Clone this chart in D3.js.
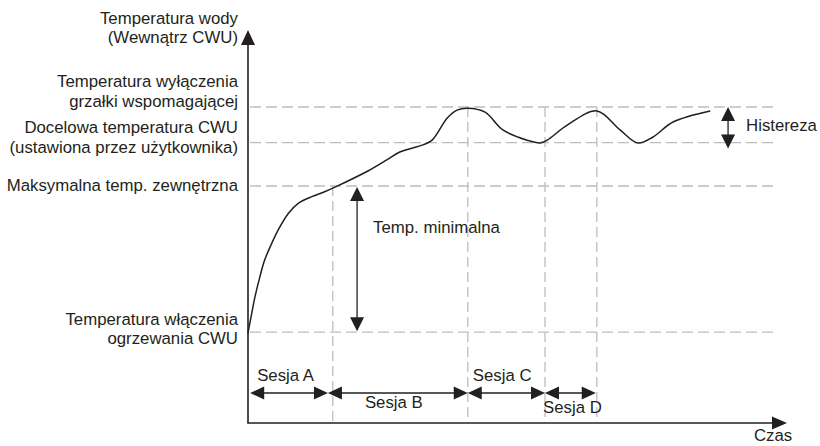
<!DOCTYPE html>
<html>
<head>
<meta charset="utf-8">
<script src="https://cdn.jsdelivr.net/npm/d3@7"></script>
<style>
  html, body { margin: 0; padding: 0; background: #fff; }
  svg { display: block; }
  text { font-family: "Liberation Sans", Arial, Helvetica, sans-serif; font-size: 16.8px; fill: #231f20; }
</style>
</head>
<body>
<svg id="chart" width="820" height="446"></svg>
<script>
// Temperature levels (arbitrary units) with their labels
const levelNames = [
  ["Temperatura włączenia", "ogrzewania CWU"],
  ["Maksymalna temp. zewnętrzna"],
  ["Docelowa temperatura CWU", "(ustawiona przez użytkownika)"],
  ["Temperatura wyłączenia", "grzałki wspomagającej"]
];
const levelValues = [23, 60, 71, 80];

// Water temperature over time
const timeValues = [0, 0.7, 1.3, 2.2, 3.1, 4.4, 5.6, 7.5, 9.3, 11.8, 14.3, 16.1, 22.2, 25.7, 28.1,
                    32.4, 34.1, 36.9, 38.7, 40.7, 43.9, 47.2, 51.7, 54.1, 55.4, 59.1, 64.6, 68.9, 72.2,
                    75, 78.7, 85.6];
const tempValues = [22.8, 27.8, 32, 37, 41.3, 45.5, 48.9, 53.1, 55.6, 57.3, 58.6, 59.7, 63.8, 66.6, 68.6,
                    70.4, 71.6, 77.2, 79.2, 79.7, 78.7, 74.2, 71.6, 70.9, 71.6, 75.4, 79, 74.2, 70.9,
                    72.4, 76.2, 79];

// Vertical guide lines (time) and the level where each starts
const guideTimes = [15.7, 40.7, 55, 64.6];
const guideTops = [60, 80, 80, 80];

// Sessions
const sessionNames = ["Sesja A", "Sesja B", "Sesja C", "Sesja D"];
const sessionBounds = [0.4, 14.8, 40.7, 55, 64.4];

// Annotations
const axisTitleY = ["Temperatura wody", "(Wewnątrz CWU)"];
const axisTitleX = "Czas";
const minTempLabel = "Temp. minimalna";
const minTempTime = 20.2;
const hystLabel = "Histereza";
const hystTime = 88.9;

const svg = d3.select("#chart");
const x = d3.scaleLinear().domain([0, 100]).range([248, 788]);
const y = d3.scaleLinear().domain([0, 100]).range([423, 28]);

const ink = "#231f20";
const gridColor = "#bdbdbd";

function tri(cx, cy, dir, len, wid) {
  // triangle whose tip is at (cx, cy) pointing in dir
  const h = wid / 2;
  let pts;
  if (dir === "up") pts = [[cx, cy], [cx - h, cy + len], [cx + h, cy + len]];
  else if (dir === "down") pts = [[cx, cy], [cx - h, cy - len], [cx + h, cy - len]];
  else if (dir === "left") pts = [[cx, cy], [cx + len, cy - h], [cx + len, cy + h]];
  else pts = [[cx, cy], [cx - len, cy - h], [cx - len, cy + h]];
  svg.append("path").attr("d", "M" + pts.join("L") + "Z").attr("fill", ink);
}

// Horizontal guide lines
svg.append("g").selectAll("line").data(levelValues).join("line")
  .attr("x1", x(0) + 2).attr("x2", x(98.1))
  .attr("y1", d => y(d)).attr("y2", d => y(d))
  .attr("stroke", gridColor).attr("stroke-width", 1.3).attr("stroke-dasharray", "11,5");

// Vertical guide lines
svg.append("g").selectAll("line").data(guideTimes).join("line")
  .attr("x1", d => x(d)).attr("x2", d => x(d))
  .attr("y1", (d, i) => y(guideTops[i])).attr("y2", y(0))
  .attr("stroke", gridColor).attr("stroke-width", 1.3).attr("stroke-dasharray", "10,5");

// Temperature curve
const pts = timeValues.map((t, i) => [t, tempValues[i]]);
svg.append("path")
  .attr("d", d3.line().x(d => x(d[0])).y(d => y(d[1])).curve(d3.curveCatmullRom.alpha(0.5))(pts))
  .attr("fill", "none").attr("stroke", ink).attr("stroke-width", 1.5);

// Axes
svg.append("line").attr("x1", x(0)).attr("x2", x(0)).attr("y1", y(0)).attr("y2", 40)
  .attr("stroke", ink).attr("stroke-width", 1.6);
tri(x(0), 30, "up", 15, 14);
svg.append("line").attr("x1", x(0) - 0.8).attr("x2", 778).attr("y1", y(0)).attr("y2", y(0))
  .attr("stroke", ink).attr("stroke-width", 1.6);
tri(787, y(0), "right", 15, 13);

// Y axis title
svg.append("g").selectAll("text").data(axisTitleY).join("text")
  .attr("x", 238).attr("y", (d, i) => 23.5 + i * 19.5)
  .attr("text-anchor", "end").text(d => d);

// Level labels
const firstLineOffset = [-7.5, 5, -9.5, -20];
levelNames.forEach((lines, k) => {
  svg.append("g").selectAll("text").data(lines).join("text")
    .attr("x", 238).attr("y", (d, i) => y(levelValues[k]) + firstLineOffset[k] + i * 19.5)
    .attr("text-anchor", "end").text(d => d);
});

// X axis title
svg.append("text").attr("x", 754).attr("y", 441).text(axisTitleX);

// Minimum temperature span
{
  const cx = x(minTempTime);
  const top = y(levelValues[1]) + 1, bot = y(levelValues[0]) - 1;
  svg.append("line").attr("x1", cx).attr("x2", cx).attr("y1", top + 10).attr("y2", bot - 10)
    .attr("stroke", ink).attr("stroke-width", 1.3);
  tri(cx, top, "up", 14, 14);
  tri(cx, bot, "down", 14, 14);
  svg.append("text").attr("x", cx + 16).attr("y", 233).text(minTempLabel);
}

// Hysteresis span
{
  const cx = x(hystTime);
  const top = y(levelValues[3]), bot = y(levelValues[2]) + 6;
  svg.append("line").attr("x1", cx).attr("x2", cx).attr("y1", top + 10).attr("y2", bot - 10)
    .attr("stroke", ink).attr("stroke-width", 1.3);
  tri(cx, top, "up", 14, 14);
  tri(cx, bot, "down", 14, 14);
  svg.append("text").attr("x", cx + 18).attr("y", 131).text(hystLabel);
}

// Sessions
const sy = 393;
const labelPos = [
  { dx: 7, y: 381 },
  { dx: 37, y: 408 },
  { dx: 5, y: 381 },
  { dx: -2, y: 413 }
];
sessionNames.forEach((name, i) => {
  const a = x(sessionBounds[i]), b = x(sessionBounds[i + 1]);
  svg.append("line").attr("x1", a + 8).attr("x2", b - 8).attr("y1", sy).attr("y2", sy)
    .attr("stroke", ink).attr("stroke-width", 1.3);
  tri(a, sy, "left", 14, 13);
  tri(b, sy, "right", 14, 13);
  const p = labelPos[i];
  svg.append("text").attr("x", a + p.dx).attr("y", p.y).text(name);
});
</script>
</body>
</html>
